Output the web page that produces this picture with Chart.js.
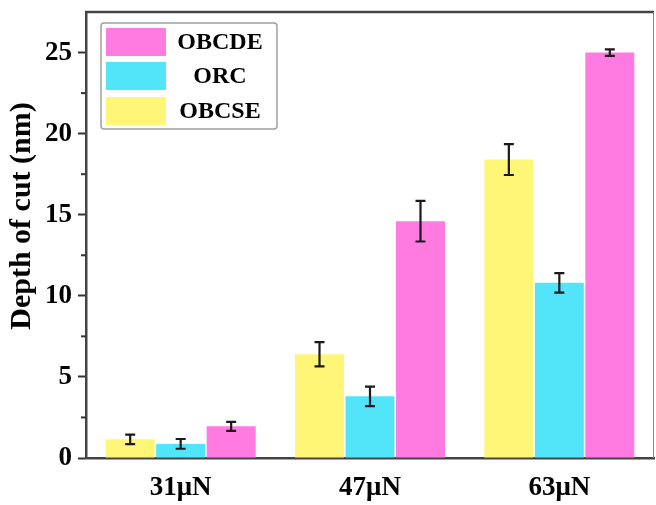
<!DOCTYPE html>
<html>
<head>
<meta charset="utf-8">
<script src="https://cdn.jsdelivr.net/npm/chart.js@4/dist/chart.umd.min.js"></script>
<style>
html,body{margin:0;padding:0;background:#fff;}
#wrap{width:656px;height:505px;position:relative;}
</style>
</head>
<body>
<div id="wrap"><canvas id="c" width="656" height="505"></canvas></div>
<script>
const categories = ['31\u03BCN', '47\u03BCN', '63\u03BCN'];
const seriesNames = ['OBCSE', 'ORC', 'OBCDE'];
const obcse = [1.15, 6.4, 18.4];
const orc = [0.87, 3.8, 10.8];
const obcde = [1.95, 14.6, 25.0];
const obcseErr = [0.29, 0.75, 0.95];
const orcErr = [0.3, 0.6, 0.6];
const obcdeErr = [0.28, 1.25, 0.2];
const yTicks = [0, 5, 10, 15, 20, 25];
const yMinorTicks = [2.5, 7.5, 12.5, 17.5, 22.5];
const yTitle = 'Depth of cut (nm)';

const colors = ['rgb(255,245,118)', 'rgb(82,229,250)', 'rgb(255,122,225)'];
const FONT = "'Liberation Serif','Times New Roman',serif";

const errorBars = {
  id: 'errorBars',
  afterDatasetsDraw(chart) {
    const ctx = chart.ctx, y = chart.scales.y;
    ctx.save();
    ctx.strokeStyle = '#1a1a1a';
    ctx.lineWidth = 2.2;
    chart.data.datasets.forEach((ds, di) => {
      const meta = chart.getDatasetMeta(di);
      meta.data.forEach((bar, i) => {
        const v = ds.data[i], e = ds.errors[i];
        const yt = y.getPixelForValue(v + e), yb = y.getPixelForValue(v - e);
        const x = bar.x, cw = 5;
        ctx.beginPath();
        ctx.moveTo(x, yt); ctx.lineTo(x, yb);
        ctx.moveTo(x - cw, yt); ctx.lineTo(x + cw, yt);
        ctx.moveTo(x - cw, yb); ctx.lineTo(x + cw, yb);
        ctx.stroke();
      });
    });
    ctx.restore();
  }
};

const frame = {
  id: 'frame',
  afterDraw(chart) {
    const ctx = chart.ctx, a = chart.chartArea, y = chart.scales.y;
    ctx.save();
    // top & right border
    ctx.strokeStyle = '#444';
    ctx.lineWidth = 2.5;
    ctx.beginPath();
    ctx.moveTo(a.left - 1, a.top); ctx.lineTo(a.right, a.top);
    ctx.stroke();
    ctx.strokeStyle = '#888';
    ctx.lineWidth = 1;
    ctx.beginPath();
    ctx.moveTo(a.right - 0.5, a.top); ctx.lineTo(a.right - 0.5, a.bottom);
    ctx.stroke();
    // minor ticks
    ctx.strokeStyle = '#333';
    ctx.lineWidth = 2;
    yMinorTicks.forEach(v => {
      const py = y.getPixelForValue(v);
      ctx.beginPath();
      ctx.moveTo(a.left - 5, py); ctx.lineTo(a.left, py);
      ctx.stroke();
    });
    // y title
    ctx.fillStyle = '#000';
    ctx.font = 'bold 30px ' + FONT;
    ctx.textAlign = 'center';
    ctx.textBaseline = 'middle';
    ctx.translate(22, 216);
    ctx.rotate(-Math.PI / 2);
    ctx.fillText(yTitle, 0, 0);
    ctx.setTransform(1, 0, 0, 1, 0, 0);
    // legend
    const lx = 101, ly = 23, lw = 176, lh = 106;
    ctx.strokeStyle = '#a0a0a0';
    ctx.lineWidth = 1.5;
    ctx.beginPath();
    if (ctx.roundRect) ctx.roundRect(lx, ly, lw, lh, 3); else ctx.rect(lx, ly, lw, lh);
    ctx.stroke();
    const order = [2, 1, 0];
    const rowsY = [28, 62, 97];
    ctx.font = 'bold 24px ' + FONT;
    order.forEach((di, r) => {
      const ds = chart.data.datasets[di];
      ctx.fillStyle = ds.backgroundColor;
      ctx.fillRect(106, rowsY[r], 60, 28);
      ctx.fillStyle = '#000';
      ctx.fillText(ds.label, 220, rowsY[r] + 15);
    });
    ctx.restore();
  }
};

const dataArrays = [obcse, orc, obcde];
const errArrays = [obcseErr, orcErr, obcdeErr];

new Chart(document.getElementById('c'), {
  type: 'bar',
  data: {
    labels: categories,
    datasets: seriesNames.map((n, i) => ({
      label: n,
      data: dataArrays[i],
      errors: errArrays[i],
      backgroundColor: colors[i],
      borderWidth: 0,
      barPercentage: 0.97,
      categoryPercentage: 0.8
    }))
  },
  options: {
    responsive: false,
    animation: false,
    events: [],
    layout: { padding: { top: 12, right: 2, left: 0, bottom: 0 } },
    plugins: { legend: { display: false }, tooltip: { enabled: false } },
    scales: {
      x: {
        grid: { display: false, drawTicks: false },
        border: { display: true, color: '#444', width: 2.5 },
        ticks: { color: '#000', font: { family: FONT, size: 27, weight: 'bold' }, padding: 14 },
        afterFit(s) { s.height = 47; s.paddingLeft = 0; s.paddingRight = 0; }
      },
      y: {
        min: 0, max: 27.5,
        grid: { display: true, drawOnChartArea: false, tickLength: 8, tickColor: '#333', tickWidth: 2 },
        border: { display: true, color: '#444', width: 2.5 },
        ticks: {
          stepSize: 5, includeBounds: false, color: '#000', padding: 6,
          font: { family: FONT, size: 27, weight: 'bold' },
          callback: (v) => yTicks.includes(v) ? String(v) : ''
        },
        title: { display: false },
        afterFit(s) { s.width = 86; s.paddingTop = 0; s.paddingBottom = 0; }
      }
    }
  },
  plugins: [errorBars, frame]
});
</script>
</body>
</html>
